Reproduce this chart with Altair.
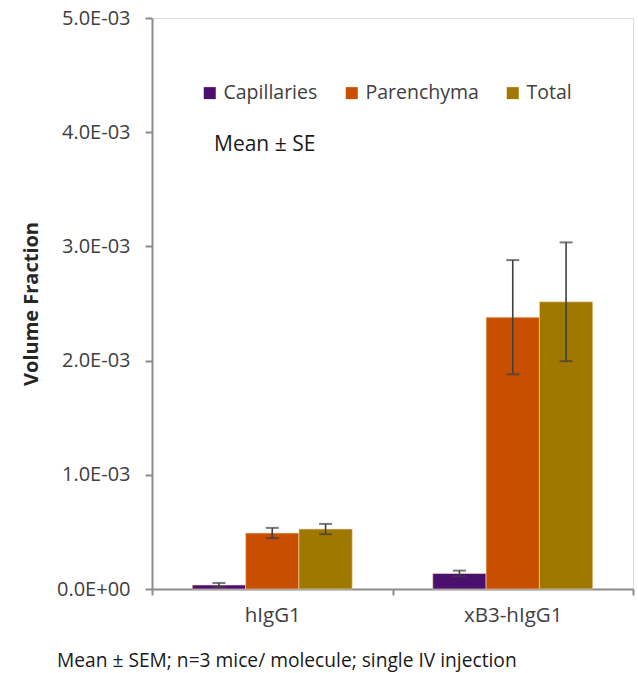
import altair as alt
import pandas as pd

groups = ["hIgG1", "xB3-hIgG1"]
series = ["Capillaries", "Parenchyma", "Total"]
colors = ["#4b0f6e", "#c84f00", "#a07800"]
means = {
    "hIgG1": [0.035e-3, 0.49e-3, 0.525e-3],
    "xB3-hIgG1": [0.136e-3, 2.38e-3, 2.515e-3],
}
errs = {
    "hIgG1": [0.018e-3, 0.045e-3, 0.045e-3],
    "xB3-hIgG1": [0.025e-3, 0.50e-3, 0.52e-3],
}
y_ticks = [0, 0.001, 0.002, 0.003, 0.004, 0.005]
note_text = ["Mean ± SE"]
footer_text = ["Mean ± SEM; n=3 mice/ molecule; single IV injection"]

rows = []
for g in groups:
    for i, s in enumerate(series):
        m = means[g][i]
        e = errs[g][i]
        rows.append({"group": g, "series": s, "mean": m, "lo": m - e, "hi": m + e})
df = pd.DataFrame(rows)

FONT = "Open Sans"
GREY = "#404040"
AX = "#8c8c8c"

x_enc = alt.X(
    "group:N", sort=groups,
    scale=alt.Scale(paddingInner=0, paddingOuter=0),
    axis=alt.Axis(title=None, labelAngle=0, labelFontSize=20.5, labelColor=GREY,
                  labelFont=FONT, domainColor=AX, domainWidth=2, tickColor=AX,
                  tickWidth=2, tickSize=6, tickBand="extent", labelPadding=10),
)
xo = alt.XOffset("series:N", sort=series,
                 scale=alt.Scale(paddingInner=0, paddingOuter=0.755))
y_scale = alt.Scale(domain=[0, 0.005], nice=False)

bars = alt.Chart(df).mark_bar(stroke="#f0e0c0", strokeWidth=0.6).encode(
    x=x_enc,
    xOffset=xo,
    y=alt.Y("mean:Q", scale=y_scale,
            axis=alt.Axis(title="Volume Fraction", titleFontSize=20, titleFont=FONT,
                          titleFontWeight="bold", titleColor="#262626", titlePadding=15,
                          values=y_ticks, grid=False,
                          labelExpr="datum.value == 0 ? '0.0E+00' : format(datum.value*1000, '.1f') + 'E-03'",
                          labelFontSize=20, labelFont=FONT, labelColor=GREY, labelPadding=15,
                          domainColor=AX, domainWidth=2, tickColor=AX, tickWidth=2, tickSize=7)),
    color=alt.Color("series:N", sort=series,
                    scale=alt.Scale(domain=series, range=colors),
                    legend=alt.Legend(title=None, orient="none", direction="horizontal",
                                      legendX=48, legendY=65, symbolType="square",
                                      symbolSize=144, symbolStrokeWidth=0,
                                      labelFontSize=19.5, labelFont=FONT, labelColor=GREY,
                                      columnPadding=24, labelOffset=4)),
)

rules = alt.Chart(df).mark_rule(color=GREY, strokeWidth=1.6).encode(
    x=alt.X("group:N", sort=groups), xOffset=xo, y="lo:Q", y2="hi:Q")
cap_lo = alt.Chart(df).mark_tick(color=GREY, thickness=2, size=13, orient="horizontal").encode(
    x=alt.X("group:N", sort=groups), xOffset=xo, y="lo:Q")
cap_hi = alt.Chart(df).mark_tick(color=GREY, thickness=2, size=13, orient="horizontal").encode(
    x=alt.X("group:N", sort=groups), xOffset=xo, y="hi:Q")

note = alt.Chart(pd.DataFrame({"t": note_text})).mark_text(
    align="left", baseline="middle", fontSize=21, font=FONT, color="#1a1a1a"
).encode(text="t:N", x=alt.value(62), y=alt.value(127))

footer = alt.Chart(pd.DataFrame({"t": footer_text})).mark_text(
    align="left", baseline="middle", fontSize=19.2, font=FONT, color="#1a1a1a"
).encode(text="t:N", x=alt.value(-95), y=alt.value(643))

chart = alt.layer(bars, rules, cap_lo, cap_hi, note, footer).properties(
    width=481, height=571,
    autosize=alt.AutoSizeParams(type="none"),
    padding={"left": 152, "top": 18, "right": 5, "bottom": 84},
).configure_view(stroke=None).configure(background="white")

chart.save("out.html", embed_options={"renderer": "svg", "actions": False})
